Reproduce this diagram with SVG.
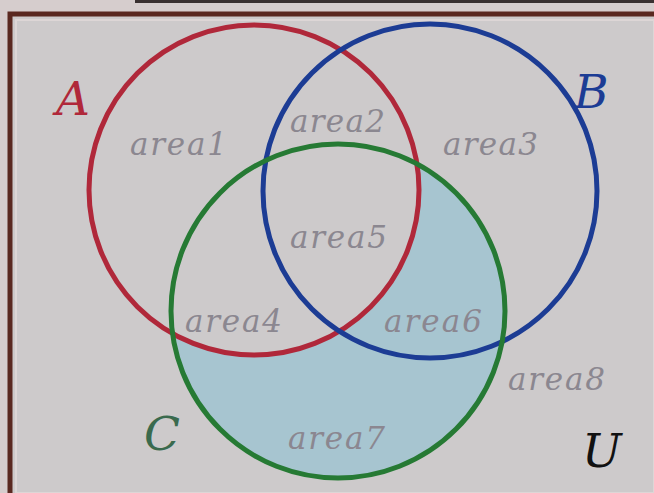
<svg xmlns="http://www.w3.org/2000/svg" width="654" height="493" viewBox="0 0 654 493">
<style>
.area{font-family:"DejaVu Serif","Liberation Serif",serif;font-style:italic;font-size:31px;fill:#8b8790;}
.set{font-family:"DejaVu Serif","Liberation Serif",serif;font-style:italic;font-size:47px;}
.ring{fill:none;stroke-width:5;}
</style>
<defs>
<clipPath id="clipC"><circle cx="338" cy="311" r="167"/></clipPath>
<mask id="notA"><rect x="0" y="0" width="654" height="493" fill="#fff"/><circle cx="254" cy="190" r="165" fill="#000"/></mask>
</defs>
<rect x="0" y="0" width="654" height="493" fill="#d6cdcd"/>
<rect x="135" y="0" width="519" height="3" fill="#3a3030"/>
<rect x="10" y="14" width="644" height="479" fill="#cdcacb"/>
<rect x="16" y="20" width="638" height="473" fill="none" stroke="#ddd6d6" stroke-width="2"/>
<path d="M10,493 V14 H654" fill="none" stroke="#5a2820" stroke-width="5"/>
<g id="shade">
<rect x="0" y="0" width="654" height="493" fill="#a7c5d0" clip-path="url(#clipC)" mask="url(#notA)"/>
</g>
<g id="setA"><circle class="ring" cx="254" cy="190" r="165" stroke="#b0283a"/><text class="set" x="56" y="115" fill="#b0283a" textLength="40">A</text></g>
<g id="setB"><circle class="ring" cx="430" cy="191" r="167" stroke="#1c3c94"/><text class="set" x="574" y="108" fill="#1c3c94" textLength="38">B</text></g>
<g id="setC"><circle class="ring" cx="338" cy="311" r="167" stroke="#267a34"/><text class="set" x="144" y="450" fill="#3a6a4e" textLength="34">C</text></g>
<g id="universe"><text class="set" x="582" y="467" fill="#111" textLength="40">U</text></g>
<g id="labels">
<text class="area" x="130" y="155" textLength="97">area1</text>
<text class="area" x="290" y="132" textLength="95">area2</text>
<text class="area" x="443" y="155" textLength="95">area3</text>
<text class="area" x="185" y="332" textLength="97">area4</text>
<text class="area" x="290" y="248" textLength="97">area5</text>
<text class="area" x="384" y="332" textLength="98">area6</text>
<text class="area" x="288" y="449" textLength="97">area7</text>
<text class="area" x="508" y="390" textLength="97">area8</text>
</g>
</svg>
